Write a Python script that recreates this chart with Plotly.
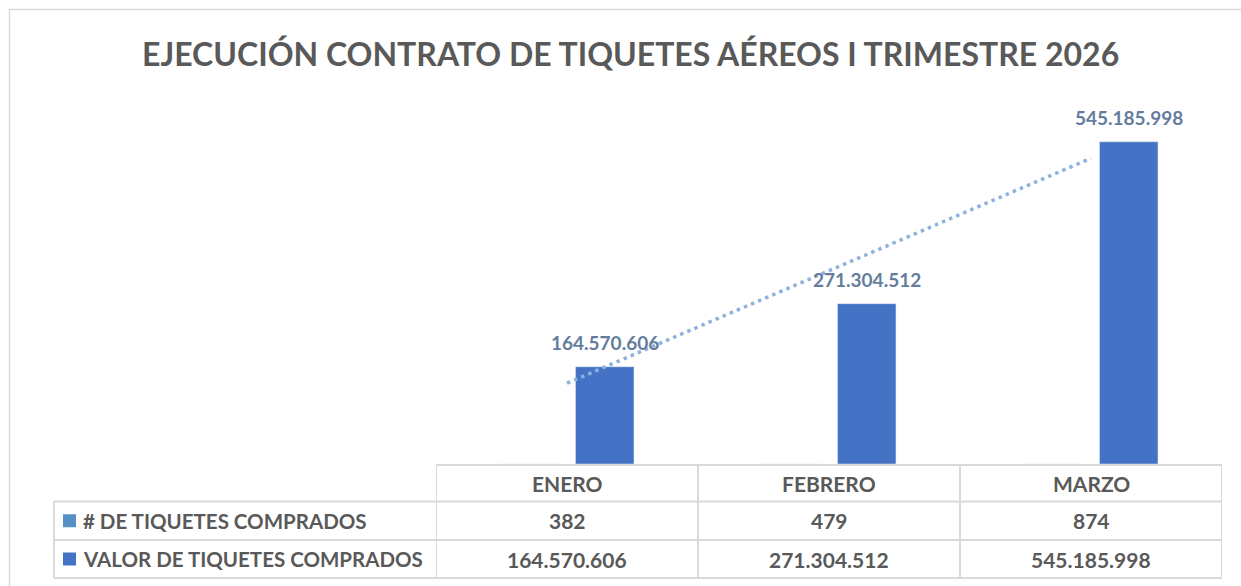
import numpy as np
import plotly.graph_objects as go

# ---- data ----
categories = ["ENERO", "FEBRERO", "MARZO"]
series_names = ["# DE TIQUETES COMPRADOS", "VALOR DE TIQUETES COMPRADOS"]
tiquetes = [382, 479, 874]
valor = [164570606, 271304512, 545185998]
title_text = "EJECUCIÓN CONTRATO DE TIQUETES AÉREOS I TRIMESTRE 2026"

# ---- styles ----
W, H = 1241, 586
FONT = "Lato"
GRAY_TXT = "#595959"
GRID = "#d9d9d9"
C_TIQ = "#5690c4"
C_VAL = "#4472c4"
LABEL_C = "#647d9c"
TREND_C = "#8fb1e0"
BARGAP = 0.424
BARGROUPGAP = 0.225


def px(x):
    return x / W


def py(y):
    return 1 - y / H


def fmt(v):
    return f"{v:,}".replace(",", ".")


x_idx = np.arange(len(categories))

fig = go.Figure()
fig.add_trace(go.Bar(x=categories, y=tiquetes, name=series_names[0],
                     marker_color=C_TIQ, showlegend=False))
fig.add_trace(go.Bar(x=categories, y=valor, name=series_names[1],
                     marker_color=C_VAL, showlegend=False))

# linear trendline of valor series
coef = np.polyfit(x_idx, valor, 1)
trend = np.polyval(coef, x_idx)
fig.add_trace(go.Scatter(x=categories, y=trend, mode="lines",
                         line=dict(color=TREND_C, width=3.5, dash="3.5px,4.2px"),
                         showlegend=False, hoverinfo="skip"))

annotations = []
shapes = []

# data labels above valor bars
offset = (1 - BARGAP) / 4
for i, v in enumerate(valor):
    annotations.append(dict(x=i + offset, y=v, xref="x", yref="y", text=fmt(v),
                            showarrow=False, yshift=24, xanchor="center", yanchor="middle",
                            font=dict(family=FONT, size=19, color=LABEL_C, weight="bold")))

# title
annotations.append(dict(x=px(630), y=py(53), xref="paper", yref="paper", text=title_text,
                        showarrow=False, xanchor="center", yanchor="middle",
                        font=dict(family=FONT, size=32, color=GRAY_TXT, weight="bold")))

# data table
y_top, y_r1, y_r2, y_bot = 465, 501.5, 540, 578
x_left, x_cat0, x_right = 54, 436, 1222
line = dict(color=GRID, width=2)
shapes.append(dict(type="line", xref="paper", yref="paper", x0=px(x_cat0), x1=px(x_right),
                   y0=py(y_top), y1=py(y_top), line=line))
for yy in (y_r1, y_r2, y_bot):
    shapes.append(dict(type="line", xref="paper", yref="paper", x0=px(x_left), x1=px(x_right),
                       y0=py(yy), y1=py(yy), line=line))
shapes.append(dict(type="line", xref="paper", yref="paper", x0=px(x_left), x1=px(x_left),
                   y0=py(y_r1), y1=py(y_bot), line=line))
for b in np.arange(len(categories) + 1) - 0.5:
    shapes.append(dict(type="line", xref="x", yref="paper", x0=b, x1=b,
                       y0=py(y_top), y1=py(y_bot), line=line))

tfont = dict(family=FONT, size=21, color=GRAY_TXT, weight="bold")
lfont = dict(family=FONT, size=20.5, color=GRAY_TXT, weight="bold")
row_y = [(y_top + y_r1) / 2, (y_r1 + y_r2) / 2, (y_r2 + y_bot) / 2]
for i, c in enumerate(categories):
    for txt, ry in zip([c, fmt(tiquetes[i]), fmt(valor[i])], row_y):
        annotations.append(dict(x=i, y=py(ry), xref="x", yref="paper", text=txt,
                                showarrow=False, xanchor="center", yanchor="middle",
                                font=tfont))

for name, col, ry in zip(series_names, [C_TIQ, C_VAL], row_y[1:]):
    shapes.append(dict(type="rect", xref="paper", yref="paper", x0=px(63), x1=px(76),
                       y0=py(ry - 6.5), y1=py(ry + 6.5), fillcolor=col, line=dict(width=0)))
    annotations.append(dict(x=px(81), y=py(ry), xref="paper", yref="paper", text=name,
                            showarrow=False, xanchor="left", yanchor="middle", font=lfont))

# outer chart frame
shapes.append(dict(type="rect", xref="paper", yref="paper", x0=px(9.5), x1=px(W + 20),
                   y0=py(9.5), y1=py(H + 20), line=dict(color=GRID, width=1.5)))

fig.update_layout(
    width=W, height=H,
    margin=dict(l=0, r=0, t=0, b=0),
    paper_bgcolor="white", plot_bgcolor="white",
    barmode="group", bargap=BARGAP, bargroupgap=BARGROUPGAP,
    xaxis=dict(domain=[px(x_cat0), px(x_right)], range=[-0.5, len(categories) - 0.5],
               showticklabels=False, showgrid=False, zeroline=False, showline=False,
               fixedrange=True),
    yaxis=dict(domain=[py(464), py(109.4)], range=[0, 600e6], showticklabels=False,
               showgrid=False, zeroline=False, showline=False, fixedrange=True),
    annotations=annotations, shapes=shapes,
    showlegend=False,
)

fig.write_html("out.html", config={"displayModeBar": False},
               post_script="document.body.style.margin='0';document.body.style.overflow='hidden';")
